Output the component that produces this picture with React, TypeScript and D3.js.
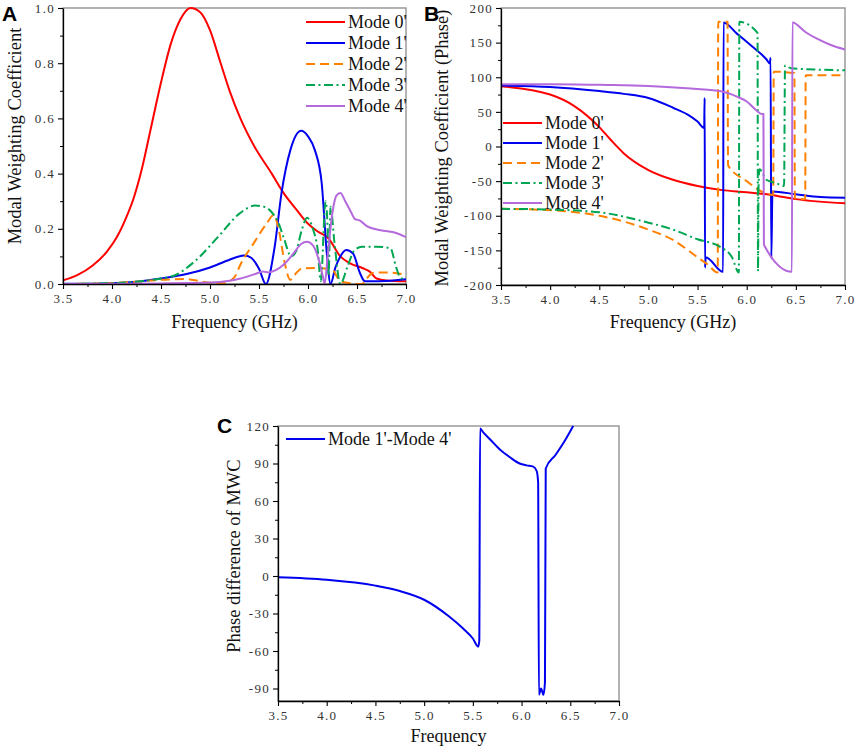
import { useEffect, useRef } from "react"
import * as d3 from "d3"

type Pt = [number, number]

// ---- tick values ----
const freqTicks = [3.5, 4.0, 4.5, 5.0, 5.5, 6.0, 6.5, 7.0]
const freqMinor = [3.75, 4.25, 4.75, 5.25, 5.75, 6.25, 6.75]
const ampTicks = [0, 0.2, 0.4, 0.6, 0.8, 1.0]
const ampMinor = [0.1, 0.3, 0.5, 0.7, 0.9]
const phaseTicks = [-200, -150, -100, -50, 0, 50, 100, 150, 200]
const phaseMinor = [-175, -125, -75, -25, 25, 75, 125, 175]
const diffTicks = [-90, -60, -30, 0, 30, 60, 90, 120]
const diffMinor = [-75, -45, -15, 15, 45, 75, 105]

const modeNames = ["Mode 0'", "Mode 1'", "Mode 2'", "Mode 3'", "Mode 4'"]

// ---- panel A: magnitude ----
const ampMode0: Pt[] = [
  [3.5, 0.013], [3.65, 0.033], [3.8, 0.066], [3.95, 0.118], [4.05, 0.17], [4.15, 0.245],
  [4.22, 0.31], [4.3, 0.41], [4.4, 0.57], [4.5, 0.73], [4.6, 0.87], [4.7, 0.96],
  [4.8, 1.0], [4.9, 0.985], [5.0, 0.92], [5.1, 0.81], [5.2, 0.7], [5.31, 0.6],
  [5.45, 0.5], [5.63, 0.4], [5.75, 0.33], [5.88, 0.27], [5.99, 0.222], [6.1, 0.19],
  [6.21, 0.165], [6.33, 0.1], [6.43, 0.075], [6.56, 0.057], [6.63, 0.045], [6.7, 0.02],
  [6.8, 0.013], [7.0, 0.01],
]
const ampMode1: Pt[] = [
  [3.5, 0.001], [4.0, 0.003], [4.3, 0.01], [4.5, 0.02], [4.75, 0.035], [5.0, 0.06],
  [5.2, 0.088], [5.35, 0.103], [5.42, 0.095], [5.5, 0.055], [5.57, 0.0], [5.66, 0.135],
  [5.73, 0.33], [5.82, 0.485], [5.93, 0.555], [6.0, 0.535], [6.07, 0.485], [6.14, 0.365],
  [6.19, 0.12], [6.23, 0.0], [6.28, 0.06], [6.33, 0.1], [6.39, 0.123], [6.46, 0.11],
  [6.53, 0.04], [6.58, 0.01], [6.73, 0.01], [7.0, 0.017],
]
const ampMode2: Pt[] = [
  [3.5, 0.0], [4.0, 0.003], [4.5, 0.015], [4.75, 0.018], [4.9, 0.01], [5.05, 0.003],
  [5.15, 0.004], [5.25, 0.025], [5.31, 0.07], [5.45, 0.15], [5.58, 0.22], [5.65, 0.25],
  [5.7, 0.2], [5.76, 0.08], [5.82, 0.015], [5.88, 0.04], [5.94, 0.057], [6.1, 0.058],
  [6.25, 0.05], [6.33, 0.01], [6.45, 0.002], [6.55, 0.0], [6.6, 0.02], [6.66, 0.04],
  [6.8, 0.042], [7.0, 0.033],
]
const ampMode3: Pt[] = [
  [3.5, 0.0], [4.0, 0.003], [4.3, 0.01], [4.5, 0.02], [4.63, 0.03], [4.86, 0.087],
  [5.1, 0.178], [5.3, 0.255], [5.46, 0.284], [5.55, 0.28], [5.63, 0.26], [5.7, 0.22],
  [5.75, 0.17], [5.83, 0.1], [5.88, 0.12], [5.94, 0.2], [5.99, 0.24], [6.05, 0.2],
  [6.1, 0.12], [6.13, 0.01], [6.18, 0.3], [6.2, 0.2], [6.21, 0.03], [6.23, 0.28],
  [6.27, 0.15], [6.33, 0.0], [6.4, 0.06], [6.47, 0.12], [6.55, 0.135], [6.7, 0.135],
  [6.84, 0.13], [6.9, 0.06], [6.95, 0.02], [7.0, 0.02],
]
const ampMode4: Pt[] = [
  [3.5, 0.0], [4.5, 0.002], [5.0, 0.005], [5.2, 0.012], [5.31, 0.02], [5.45, 0.035],
  [5.54, 0.045], [5.6, 0.042], [5.67, 0.05], [5.75, 0.07], [5.85, 0.11], [5.93, 0.145],
  [5.99, 0.153], [6.05, 0.14], [6.12, 0.075], [6.15, 0.03], [6.17, 0.0], [6.2, 0.1],
  [6.25, 0.26], [6.29, 0.32], [6.33, 0.33], [6.38, 0.3], [6.44, 0.26], [6.48, 0.235],
  [6.53, 0.23], [6.6, 0.21], [6.74, 0.195], [6.9, 0.185], [7.0, 0.17],
]

// ---- panel B: phase ----
const phaseMode0: Pt[] = [
  [3.5, 87], [4.0, 75], [4.25, 58], [4.5, 28], [4.62, 9], [4.75, -10], [5.0, -34],
  [5.25, -48], [5.5, -57], [5.75, -63], [6.0, -66], [6.25, -70], [6.5, -76], [7.0, -82],
]
const phaseMode1: Pt[] = [
  [3.5, 88], [4.0, 86], [4.5, 80], [4.75, 76], [5.0, 70], [5.25, 56], [5.4, 46],
  [5.5, 36], [5.567, 27], [5.572, 70], [5.576, -175], [5.582, -160], [5.76, -181],
  [5.764, 179], [5.9, 163], [6.05, 145], [6.2, 126], [6.235, 120], [6.243, 128],
  [6.25, -162], [6.262, -65], [6.5, -69], [6.75, -73], [7.0, -74],
]
const phaseMode2: Pt[] = [
  [3.5, -90], [4.0, -92], [4.5, -100], [5.0, -120], [5.25, -135], [5.5, -160],
  [5.6, -170], [5.705, -182], [5.71, 180], [5.805, 180], [5.81, -27], [6.0, -50],
  [6.15, -65], [6.27, -70], [6.275, 108], [6.485, 106], [6.49, -75], [6.595, -76],
  [6.6, 103], [7.0, 103],
]
const phaseMode3: Pt[] = [
  [3.5, -90], [4.0, -91], [4.5, -95], [5.0, -110], [5.25, -120], [5.5, -134],
  [5.73, -145], [5.85, -160], [5.92, -182], [5.925, 180], [6.11, 164], [6.115, -180],
  [6.12, -60], [6.13, -33], [6.2, -48], [6.3, -53], [6.38, -57], [6.39, 117],
  [6.45, 113], [7.0, 110],
]
const phaseMode4: Pt[] = [
  [3.5, 90], [4.0, 90], [4.5, 89], [5.0, 87.5], [5.5, 83], [5.76, 79], [5.9, 72],
  [6.0, 65], [6.1, 52], [6.15, 47], [6.17, 47], [6.175, -142], [6.46, -181],
  [6.465, 179], [6.6, 165], [6.71, 156], [6.85, 147], [7.0, 140],
]

// ---- panel C: phase difference ----
const phaseDiff14: Pt[] = [
  [3.5, -1], [4.0, -3], [4.5, -7.7], [4.75, -12], [5.0, -19], [5.25, -32], [5.4, -42],
  [5.5, -50], [5.555, -56.5], [5.566, -52], [5.574, 118], [5.6, 115.5], [5.68, 109],
  [5.78, 101], [5.88, 95], [5.98, 90], [6.05, 88.5], [6.12, 87.5], [6.155, 84],
  [6.17, 75], [6.178, -95], [6.2, -90], [6.225, -95], [6.24, -85], [6.248, 86],
  [6.35, 97], [6.45, 109], [6.53, 120],
]

const modeStyles = [
  { color: "#ff0000", dash: "" },
  { color: "#0000ee", dash: "" },
  { color: "#ff8000", dash: "9,5" },
  { color: "#00a651", dash: "9,3.5,2,3.5" },
  { color: "#b469dc", dash: "" },
]

const serif = "'Liberation Serif', 'Times New Roman', serif"

interface PanelCfg {
  id: string
  left: number
  right: number
  top: number
  bottom: number
  yDomain: [number, number]
  yTicks: number[]
  yMinor: number[]
  yFormat: (v: number) => string
  series: Pt[][]
  styles: { color: string; dash: string }[]
  names: string[]
  legend: { x: number; y: number; step: number }
  xTitle: string
  xTitleY: number
  yTitle: string
  yTitlePos: [number, number]
  tag: string
  tagPos: [number, number]
}

function drawPanel(svg: d3.Selection<SVGSVGElement, unknown, null, undefined>, cfg: PanelCfg) {
  const x = d3.scaleLinear().domain([3.5, 7.0]).range([cfg.left, cfg.right])
  const y = d3.scaleLinear().domain(cfg.yDomain).range([cfg.bottom, cfg.top])
  const g = svg.append("g")

  g.append("clipPath")
    .attr("id", "clip-" + cfg.id)
    .append("rect")
    .attr("x", cfg.left)
    .attr("y", cfg.top - 1)
    .attr("width", cfg.right - cfg.left)
    .attr("height", cfg.bottom - cfg.top + 2)

  // grey frame
  g.append("rect")
    .attr("x", cfg.left)
    .attr("y", cfg.top)
    .attr("width", cfg.right - cfg.left)
    .attr("height", cfg.bottom - cfg.top)
    .attr("fill", "none")
    .attr("stroke", "#8a8a8a")
    .attr("stroke-width", 1.3)

  const line = d3
    .line<Pt>()
    .x((d) => x(d[0]))
    .y((d) => y(d[1]))
    .curve(d3.curveMonotoneX)

  const lines = g.append("g").attr("clip-path", `url(#clip-${cfg.id})`)
  cfg.series.forEach((s, i) => {
    lines
      .append("path")
      .attr("d", line(s))
      .attr("fill", "none")
      .attr("stroke", cfg.styles[i].color)
      .attr("stroke-width", 2)
      .attr("stroke-dasharray", cfg.styles[i].dash || null)
      .attr("stroke-linejoin", "round")
  })

  // axes
  const styleAxis = (ax: d3.Selection<SVGGElement, unknown, null, undefined>) => {
    ax.attr("font-family", serif).attr("font-size", 13)
    ax.select(".domain").attr("stroke", "#000").attr("stroke-width", 1.3)
    ax.selectAll(".tick line").attr("stroke", "#000").attr("stroke-width", 1.1)
    ax.selectAll(".tick text").attr("fill", "#333").attr("letter-spacing", "1.3px")
  }

  const xAx = g
    .append("g")
    .attr("transform", `translate(0,${cfg.bottom})`)
    .call(d3.axisBottom(x).tickValues(freqTicks).tickSize(5).tickSizeOuter(0).tickFormat((d) => d3.format(".1f")(d as number)))
  styleAxis(xAx)
  xAx.selectAll(".tick text").attr("y", 10)
  g.append("g")
    .attr("transform", `translate(0,${cfg.bottom})`)
    .call(d3.axisBottom(x).tickValues(freqMinor).tickSize(3).tickSizeOuter(0).tickFormat(() => ""))
    .call((a) => {
      a.select(".domain").remove()
      a.selectAll(".tick line").attr("stroke", "#000")
    })

  const yAx = g
    .append("g")
    .attr("transform", `translate(${cfg.left},0)`)
    .call(d3.axisLeft(y).tickValues(cfg.yTicks).tickSize(5).tickSizeOuter(0).tickFormat((d) => cfg.yFormat(d as number)))
  styleAxis(yAx)
  yAx.selectAll(".tick text").attr("x", -8)
  g.append("g")
    .attr("transform", `translate(${cfg.left},0)`)
    .call(d3.axisLeft(y).tickValues(cfg.yMinor).tickSize(3).tickSizeOuter(0).tickFormat(() => ""))
    .call((a) => {
      a.select(".domain").remove()
      a.selectAll(".tick line").attr("stroke", "#000")
    })

  // titles
  g.append("text")
    .attr("x", (cfg.left + cfg.right) / 2)
    .attr("y", cfg.xTitleY)
    .attr("text-anchor", "middle")
    .attr("font-family", serif)
    .attr("font-size", 18)
    .attr("fill", "#111")
    .text(cfg.xTitle)

  g.append("text")
    .attr("transform", `translate(${cfg.yTitlePos[0]},${cfg.yTitlePos[1]}) rotate(-90)`)
    .attr("text-anchor", "middle")
    .attr("font-family", serif)
    .attr("font-size", 18.5)
    .attr("fill", "#111")
    .text(cfg.yTitle)

  g.append("text")
    .attr("x", cfg.tagPos[0])
    .attr("y", cfg.tagPos[1])
    .attr("font-family", "'Liberation Sans', Arial, sans-serif")
    .attr("font-weight", "bold")
    .attr("font-size", 21)
    .attr("fill", "#000")
    .text(cfg.tag)

  // legend
  const lg = g.append("g")
  cfg.names.forEach((name, i) => {
    const ly = cfg.legend.y + i * cfg.legend.step
    lg.append("line")
      .attr("x1", cfg.legend.x)
      .attr("x2", cfg.legend.x + 39)
      .attr("y1", ly)
      .attr("y2", ly)
      .attr("stroke", cfg.styles[i].color)
      .attr("stroke-width", 2)
      .attr("stroke-dasharray", cfg.styles[i].dash || null)
    lg.append("text")
      .attr("x", cfg.legend.x + 42)
      .attr("y", ly + 6)
      .attr("font-family", serif)
      .attr("font-size", 18)
      .attr("fill", "#111")
      .text(name)
  })
}

export default function App() {
  const svgRef = useRef<SVGSVGElement>(null)

  useEffect(() => {
    if (!svgRef.current) return
    const svg = d3.select(svgRef.current)
    svg.selectAll("*").remove()

    drawPanel(svg, {
      id: "a",
      left: 63,
      right: 406,
      top: 8,
      bottom: 284,
      yDomain: [0, 1],
      yTicks: ampTicks,
      yMinor: ampMinor,
      yFormat: (v) => d3.format(".1f")(v),
      series: [ampMode0, ampMode1, ampMode2, ampMode3, ampMode4],
      styles: modeStyles,
      names: modeNames,
      legend: { x: 306, y: 22, step: 21 },
      xTitle: "Frequency (GHz)",
      xTitleY: 328,
      yTitle: "Modal Weighting Coefficient",
      yTitlePos: [21, 136],
      tag: "A",
      tagPos: [2, 21],
    })

    drawPanel(svg, {
      id: "b",
      left: 501,
      right: 845,
      top: 8,
      bottom: 285,
      yDomain: [-200, 200],
      yTicks: phaseTicks,
      yMinor: phaseMinor,
      yFormat: (v) => String(v),
      series: [phaseMode0, phaseMode1, phaseMode2, phaseMode3, phaseMode4],
      styles: modeStyles,
      names: modeNames,
      legend: { x: 503, y: 123, step: 20 },
      xTitle: "Frequency (GHz)",
      xTitleY: 328,
      yTitle: "Modal Weighting Coefficient (Phase)",
      yTitlePos: [448, 148],
      tag: "B",
      tagPos: [424, 21],
    })

    drawPanel(svg, {
      id: "c",
      left: 278,
      right: 619,
      top: 426,
      bottom: 701,
      yDomain: [-100, 120],
      yTicks: diffTicks,
      yMinor: diffMinor,
      yFormat: (v) => String(v),
      series: [phaseDiff14],
      styles: [modeStyles[1]],
      names: ["Mode 1'-Mode 4'"],
      legend: { x: 286, y: 439, step: 20 },
      xTitle: "Frequency",
      xTitleY: 742,
      yTitle: "Phase difference of MWC",
      yTitlePos: [240, 556],
      tag: "C",
      tagPos: [217, 433],
    })
  }, [])

  return (
    <div style={{ position: "absolute", left: 0, top: 0 }}>
      <svg ref={svgRef} width={858} height={751} style={{ display: "block", background: "#fff" }} />
    </div>
  )
}
